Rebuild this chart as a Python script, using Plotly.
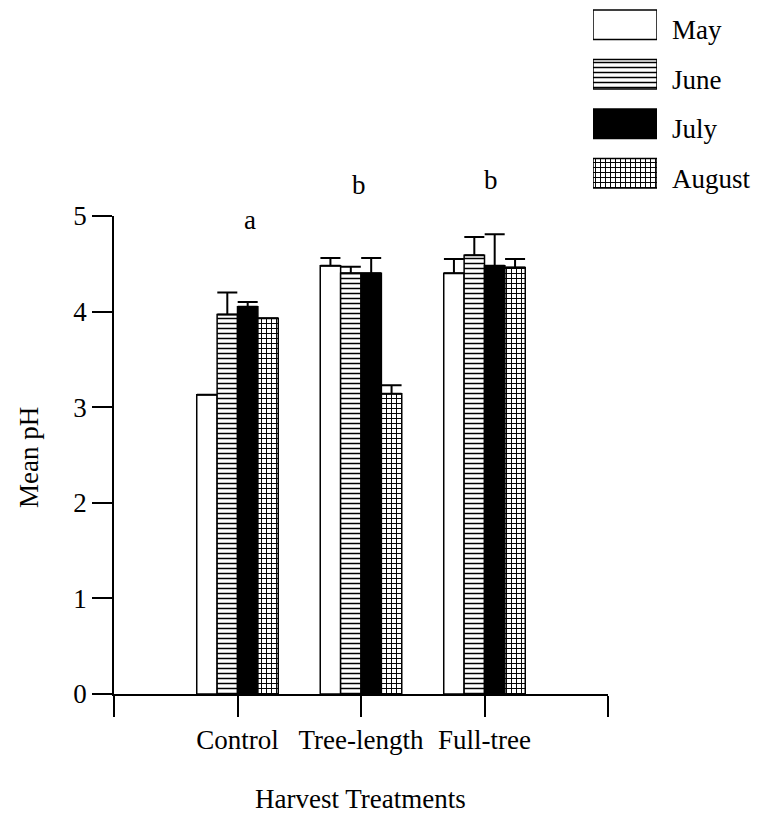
import plotly.graph_objects as go

# Mean pH by harvest treatment and sampling month, with standard errors
treatments = ["Control", "Tree-length", "Full-tree"]
months = ["May", "June", "July", "August"]

may = [3.13, 4.48, 4.40]
june = [3.97, 4.40, 4.59]
july = [4.05, 4.40, 4.48]
august = [3.93, 3.14, 4.46]

may_se = [0.0, 0.08, 0.15]
june_se = [0.23, 0.07, 0.19]
july_se = [0.05, 0.16, 0.33]
august_se = [0.0, 0.09, 0.09]

# significance letters above each treatment group
letters = ["a", "b", "b"]
letter_pos = [(1.10, 4.96), (1.98, 5.32), (3.05, 5.38)]

series = [may, june, july, august]
errors = [may_se, june_se, july_se, august_se]

FONT = "Liberation Serif"
FS = 27
W, H = 757, 813
Y_MAX = 5

# fill style per month: plain, horizontal lines, solid black, grid
fills = {
    "May": dict(color="white", pattern=dict(shape="")),
    "June": dict(color="white", pattern=dict(shape="-", size=5, solidity=0.3,
                                             fgcolor="black", bgcolor="white", fillmode="replace")),
    "July": dict(color="black", pattern=dict(shape="")),
    "August": dict(color="white", pattern=dict(shape="+", size=5, solidity=0.35,
                                               fgcolor="black", bgcolor="white", fillmode="replace")),
}

xpos = [i + 1 for i in range(len(treatments))]

fig = go.Figure()
for m, vals, se in zip(months, series, errors):
    fig.add_trace(go.Bar(
        x=xpos, y=vals, name=m,
        marker=dict(color=fills[m]["color"], pattern=fills[m]["pattern"],
                    line=dict(color="black", width=1.5)),
        error_y=dict(type="data", array=se, arrayminus=[0] * len(se), symmetric=False,
                     color="black", thickness=2, width=10),
        showlegend=False,
    ))

# key drawn as a small horizontal bar panel in the upper right
for m in months:
    fig.add_trace(go.Bar(
        y=[m], x=[1], orientation="h",
        width=0.6, offset=-0.3,
        marker=dict(color=fills[m]["color"], pattern=fills[m]["pattern"],
                    line=dict(color="black", width=1.5)),
        xaxis="x2", yaxis="y2", showlegend=False, hoverinfo="skip",
    ))

axis_common = dict(showline=True, linecolor="black", linewidth=1.5, showgrid=False,
                   zeroline=False, ticks="outside", tickcolor="black", tickwidth=1.5,
                   tickfont=dict(family=FONT, size=FS, color="black"))

fig.update_layout(
    width=W, height=H,
    margin=dict(l=0, r=0, t=0, b=0, autoexpand=False),
    paper_bgcolor="white", plot_bgcolor="white",
    barmode="group", bargap=0.34, bargroupgap=0,
    font=dict(family=FONT, size=FS, color="black"),
    xaxis=dict(domain=[114 / W, 608 / W], range=[0, 4],
               tickvals=[0] + xpos + [len(treatments) + 1],
               ticktext=[""] + treatments + [""],
               ticklen=21, **axis_common),
    yaxis=dict(domain=[(H - 694) / H, (H - 216) / H], range=[0, Y_MAX],
               tickvals=[0, 1, 2, 3, 4, 5], ticklen=20, **axis_common),
    xaxis2=dict(domain=[593 / W, 657 / W], range=[0, 1], anchor="y2",
                visible=False, fixedrange=True),
    yaxis2=dict(domain=[(H - 198) / H, 1.0], anchor="x2", side="right",
                type="category", categoryarray=months, categoryorder="array",
                range=[len(months) - 0.5, -0.5],
                showline=False, showgrid=False, zeroline=False, ticks="",
                ticklabelstandoff=14, ticklabelshift=-5,
                tickfont=dict(family=FONT, size=FS, color="black")),
    showlegend=False,
)

annotations = [
    dict(text="Mean pH", xref="paper", yref="paper", x=29 / W, y=(H - 458) / H,
         textangle=-90, showarrow=False, xanchor="center", yanchor="middle",
         font=dict(family=FONT, size=FS, color="black")),
    dict(text="Harvest Treatments", xref="paper", yref="paper", x=360 / W, y=(H - 799) / H,
         showarrow=False, xanchor="center", yanchor="middle",
         font=dict(family=FONT, size=FS, color="black")),
]
for lab, (lx, ly) in zip(letters, letter_pos):
    annotations.append(dict(text=lab, xref="x", yref="y domain", x=lx, y=ly / Y_MAX,
                            showarrow=False, xanchor="center", yanchor="middle",
                            font=dict(family=FONT, size=FS, color="black")))
fig.update_layout(annotations=annotations)

fig.write_html("out.html")
